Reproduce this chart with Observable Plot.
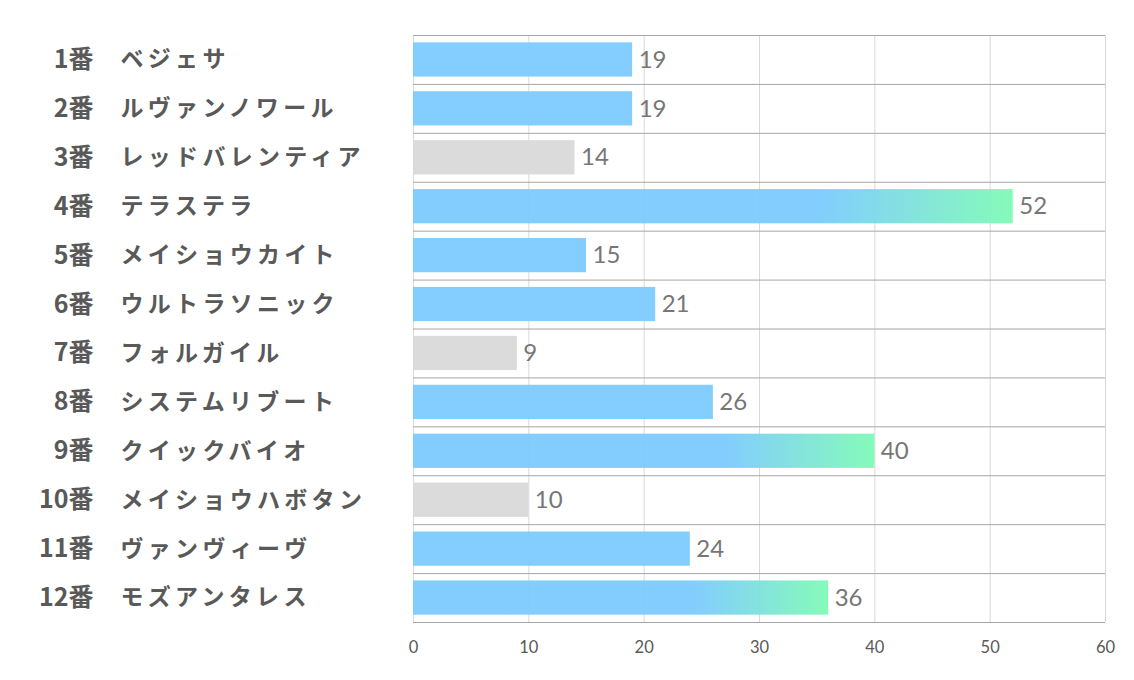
<!DOCTYPE html>
<html><head><meta charset="utf-8">
<script src="https://cdn.jsdelivr.net/npm/d3@7"></script>
<script src="https://cdn.jsdelivr.net/npm/@observablehq/plot@0.6"></script>
<style>
html,body{margin:0;padding:0;background:#fff;}
.names text{letter-spacing:4.3px;}
.xticks text{font-size:16.5px;}
</style>
</head><body>
<div id="chart"></div>
<script>
const numbers = ["1番","2番","3番","4番","5番","6番","7番","8番","9番","10番","11番","12番"];
const horses = ["ベジェサ","ルヴァンノワール","レッドバレンティア","テラステラ","メイショウカイト","ウルトラソニック","フォルガイル","システムリブート","クイックバイオ","メイショウハボタン","ヴァンヴィーヴ","モズアンタレス"];
const values = [19,19,14,52,15,21,9,26,40,10,24,36];
const tiers = ["mid","mid","low","top","mid","mid","low","mid","top","low","mid","top"];
const xTicks = [0,10,20,30,40,50,60];

const rows = numbers.map((n,i)=>({num:n, name:horses[i], value:values[i], tier:tiers[i]}));
const W = 1134, H = 680, mt = 35, mb = 58, ml = 413, mr = 29;
const step = (H - mt - mb) / numbers.length;
const fills = {mid:"#7ccbfe", low:"#d9d9d9", top:"url(#topgrad)"};

const defs = () => {
  const d = d3.create("svg:defs");
  const g = d.append("linearGradient").attr("id","topgrad").attr("x1","0").attr("x2","1").attr("y1","0").attr("y2","0");
  g.append("stop").attr("offset","0.68").attr("stop-color","#7ccbfe");
  g.append("stop").attr("offset","1").attr("stop-color","#7ffab6");
  return d.node();
};

const chart = Plot.plot({
  width: W, height: H,
  marginTop: mt, marginBottom: mb, marginLeft: ml, marginRight: mr,
  style: {fontFamily: "Lato, 'Noto Sans', sans-serif", background: "#fff"},
  x: {domain:[0,60], label: null, axis: null},
  y: {domain: numbers, paddingInner: 0.3, paddingOuter: 0.15, round: false, axis: null},
  marks: [
    defs,
    Plot.ruleX(xTicks, {stroke:"#d9d9d9", strokeWidth:1}),
    Plot.ruleY(numbers, {y: d=>d, dy: -step/2, stroke:"#a6a6a6", strokeWidth:1}),
    Plot.ruleY([numbers[numbers.length-1]], {y: d=>d, dy: step/2, stroke:"#a6a6a6", strokeWidth:1}),
    Plot.barX(rows, {x:"value", y:"num", fill: d=>fills[d.tier], fillOpacity:0.95}),
    Plot.axisX({ticks: xTicks, tickSize: 0, tickPadding: 19, fontSize: 16.5, fill:"#595959", label: null, tickFormat: d=>String(d), className:"xticks"}),
    Plot.text(rows, {x:"value", y:"num", text: d=>String(d.value), textAnchor:"start", dx:6, fill:"#767676", fontSize:24}),
    Plot.text(rows, {y:"num", text:"num", frameAnchor:"left", dx:-320, textAnchor:"end", fill:"#595959", fontSize:25, fontWeight:"bold", fontFamily:"'Noto Sans CJK JP', sans-serif"}),
    Plot.text(rows, {y:"num", text:"name", frameAnchor:"left", dx:-293, textAnchor:"start", fill:"#595959", fontSize:23, fontWeight:"bold", fontFamily:"'Noto Sans CJK JP', sans-serif", className:"names"})
  ]
});
document.getElementById("chart").appendChild(chart);
</script>
</body></html>
